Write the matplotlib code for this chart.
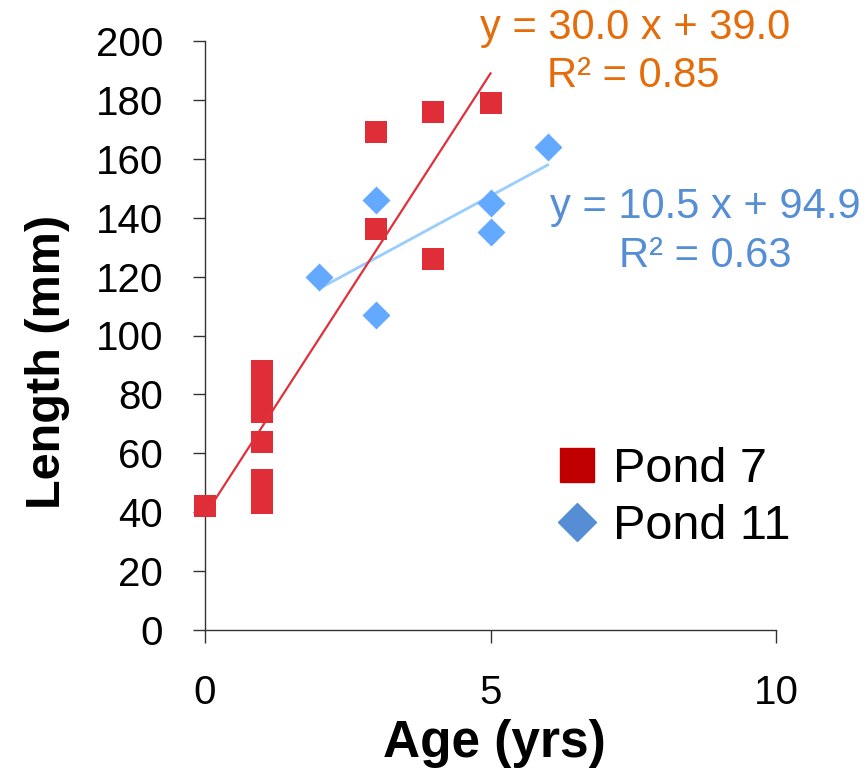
import matplotlib
matplotlib.use("Agg")
import matplotlib.pyplot as plt
import numpy as np
from matplotlib.lines import Line2D

plt.rcParams['font.family'] = ['Liberation Sans', 'DejaVu Sans']

# Data
pond7_age = [0, 1, 1, 1, 1, 1, 1, 1, 1, 1, 3, 3, 4, 4, 5]
pond7_len = [42, 88, 84, 80, 76, 74, 64, 51, 47, 43, 169, 136, 176, 126, 179]
pond11_age = [2, 3, 3, 5, 5, 6]
pond11_len = [120, 146, 107, 145, 135, 164]

fit7 = (30.0, 39.0)      # slope, intercept
fit7_range = (0, 5)
fit11 = (10.5, 94.9)
fit11_range = (2, 6)

x_ticks = [0, 5, 10]
y_ticks = list(range(0, 201, 20))

W, H = 868, 772
fig = plt.figure(figsize=(W/100, H/100), dpi=100)
ax = fig.add_axes([205/W, 1-630/H, (776-205)/W, (630-41)/H])

red_pt = '#DF2E38'
blue_pt = '#63A9FF'
ax.scatter(pond7_age, pond7_len, marker='s', s=270, color=red_pt, zorder=3,
           linewidths=0, clip_on=False)
ax.scatter(pond11_age, pond11_len, marker='D', s=203, color=blue_pt, zorder=3,
           linewidths=0, clip_on=False)

xs = np.array(fit7_range)
ax.plot(xs, fit7[0]*xs + fit7[1], color='#E0303A', lw=1.6, zorder=4)
xs = np.array(fit11_range)
ax.plot(xs, fit11[0]*xs + fit11[1], color='#99CCFF', lw=2.0, zorder=2)

ax.set_xlim(0, 10)
ax.set_ylim(0, 200)
ax.set_xticks(x_ticks)
ax.set_yticks(y_ticks)
for s in ['top', 'right']:
    ax.spines[s].set_visible(False)
for s in ['left', 'bottom']:
    ax.spines[s].set_color('#333333')
    ax.spines[s].set_linewidth(1.0)
ax.tick_params(axis='y', direction='out', length=9, width=1, color='#333333',
               labelsize=29, pad=21)
ax.tick_params(axis='x', direction='out', length=9, width=1, color='#333333',
               labelsize=29, pad=23)

ax.set_xlabel('Age (yrs)', fontsize=37, fontweight='bold')
ax.xaxis.label.set_verticalalignment('baseline')
ax.xaxis.set_label_coords((494-205)/571, (630-757)/589)

ax.set_ylabel('Length (mm)', fontsize=35, fontweight='bold')
ax.yaxis.label.set_verticalalignment('baseline')
ax.yaxis.label.set_horizontalalignment('center')
ax.yaxis.set_label_coords((60-205)/571, (630-362)/589)

def fig_text(x, y, s, **kw):
    fig.text(x/W, 1 - y/H, s, **kw)

fig_text(635, 39, 'y = 30.0 x + 39.0', fontsize=30, color='#E46C0A', ha='center', va='baseline')
fig_text(633, 87, 'R² = 0.85', fontsize=30, color='#E46C0A', ha='center', va='baseline')
fig_text(705, 218, 'y = 10.5 x + 94.9', fontsize=30, color='#558ED5', ha='center', va='baseline')
fig_text(705, 267, 'R² = 0.63', fontsize=30, color='#558ED5', ha='center', va='baseline')

handles = [
    Line2D([], [], marker='s', ls='none', color='#C00000', markersize=25),
    Line2D([], [], marker='D', ls='none', color='#558ED5', markersize=19),
]
leg = fig.legend(handles, ['Pond 7', 'Pond 11'], loc='upper left',
                 bbox_to_anchor=(553/W, 1-447/H), frameon=False,
                 fontsize=35, handletextpad=0.24, labelspacing=0.24,
                 handlelength=1.0, borderaxespad=0, borderpad=0)

fig.savefig('out.png', dpi=100)
